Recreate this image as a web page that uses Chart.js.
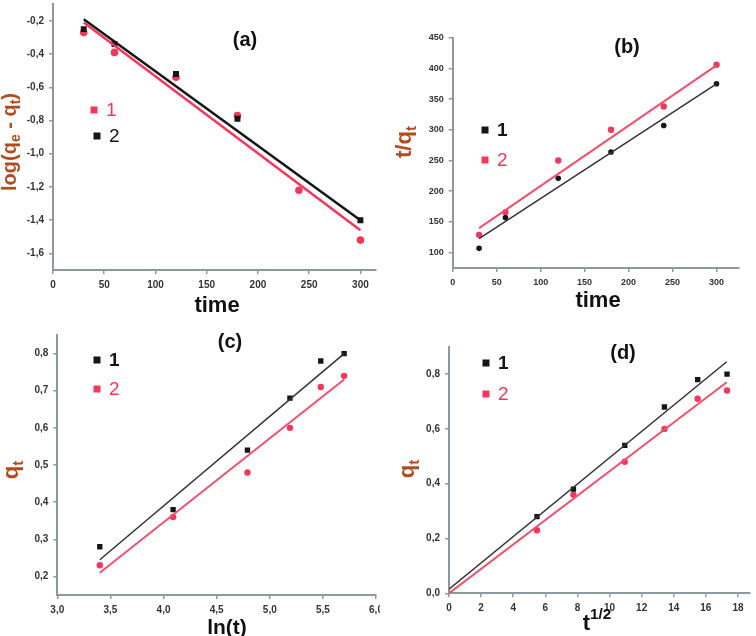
<!DOCTYPE html>
<html>
<head>
<title>Kinetic model plots</title>
<script src="https://cdn.jsdelivr.net/npm/chart.js@4.4.0/dist/chart.umd.min.js"></script>
<style>
  body { margin: 0; background: #fff; }
  #page { position: relative; width: 756px; height: 636px; overflow: hidden; }
  #page canvas { position: absolute; }
</style>
<script>
// contact time and its transforms (x values)
const time = [30, 60, 120, 180, 240, 300];
const lnTime = [3.40, 4.09, 4.79, 5.19, 5.48, 5.70];
const sqrtTime = [5.48, 7.75, 10.95, 13.42, 15.49, 17.32];

// (a) log(qe - qt) vs time
const logQ1 = [-0.27, -0.39, -0.54, -0.77, -1.22, -1.52];
const timeA2 = [30, 60, 120, 180, 300];
const logQ2 = [-0.25, -0.34, -0.52, -0.79, -1.40];
const fitA1 = [-0.21, -1.46];
const fitA2 = [-0.19, -1.40];

// (b) t/qt vs time
const tq1 = [107, 157, 221, 264, 307, 375];
const tq2 = [129, 166, 250, 300, 338, 406];
const fitB1 = [123, 375];
const fitB2 = [140, 405];

// (c), (d) qt
const qt1 = [0.28, 0.38, 0.54, 0.68, 0.78, 0.80];
const qt2 = [0.23, 0.36, 0.48, 0.60, 0.71, 0.74];
const fitC1 = [0.245, 0.80];
const fitC2 = [0.21, 0.73];
const fitD1 = [0.015, 0.845];
const fitD2 = [0.0, 0.77];

// fit line x ends
const fitTime = [30, 300];
const fitLn = [3.40, 5.70];
const fitSqrt = [0, 17.3];

// tick labels
const ticksTime = [0, 50, 100, 150, 200, 250, 300];
const ticksLogQ = [-1.6, -1.4, -1.2, -1.0, -0.8, -0.6, -0.4, -0.2];
const ticksTQ = [100, 150, 200, 250, 300, 350, 400, 450];
const ticksLn = [3.0, 3.5, 4.0, 4.5, 5.0, 5.5, 6.0];
const ticksQtC = [0.2, 0.3, 0.4, 0.5, 0.6, 0.7, 0.8];
const ticksSqrt = [0, 2, 4, 6, 8, 10, 12, 14, 16, 18];
const ticksQtD = [0.0, 0.2, 0.4, 0.6, 0.8];

const RED = '#f5365c';
const RED_LINE = '#f0506c';
const BLACK = '#151515';
const AXIS = '#8c9aa0';
const TITLE_Y = '#b24c1e';
const FONT = "'Liberation Sans', Arial, sans-serif";

function pts(xs, ys) {
    return xs.map((x, i) => ({ x: x, y: ys[i] }));
}

function fmt(dec) {
    return v => dec ? v.toFixed(dec).replace('.', ',') : String(v);
}

// draws text with sub/superscript parts, centred on (x, y)
function richText(ctx, runs, x, y, size, color, rot) {
    ctx.save();
    ctx.translate(x, y);
    if (rot) ctx.rotate(rot);
    ctx.fillStyle = color;
    ctx.textBaseline = 'middle';
    ctx.textAlign = 'left';
    let total = 0;
    runs.forEach(r => {
        const s = r.sub || r.sup ? size * 0.7 : size;
        ctx.font = 'bold ' + s + 'px ' + FONT;
        r.w = ctx.measureText(r.t).width;
        total += r.w;
    });
    let cx = -total / 2;
    runs.forEach(r => {
        const s = r.sub || r.sup ? size * 0.7 : size;
        ctx.font = 'bold ' + s + 'px ' + FONT;
        let dy = 0;
        if (r.sub) dy = size * 0.32;
        if (r.sup) dy = -size * 0.4;
        ctx.fillText(r.t, cx, dy);
        cx += r.w;
    });
    ctx.restore();
}

const decor = {
    id: 'decor',
    afterDraw(chart, args, o) {
        const ctx = chart.ctx;
        // panel label
        ctx.save();
        ctx.font = 'bold 20px ' + FONT;
        ctx.fillStyle = '#111';
        ctx.textAlign = 'center';
        ctx.textBaseline = 'middle';
        ctx.fillText(o.label[0], o.label[1], o.label[2]);
        // legend
        o.legend.forEach(it => {
            ctx.fillStyle = it.color;
            ctx.fillRect(it.x - 3.5, it.y - 3.5, 7, 7);
            ctx.font = (it.bold ? 'bold ' : '') + '19px ' + FONT;
            ctx.textAlign = 'left';
            ctx.fillText(it.text, it.x + 12, it.y + 1);
        });
        ctx.restore();
        richText(ctx, o.xTitle.runs, o.xTitle.x, o.xTitle.y, o.xTitle.size, '#111', 0);
        richText(ctx, o.yTitle.runs, o.yTitle.x, o.yTitle.y, o.yTitle.size, TITLE_Y, -Math.PI / 2);
    }
};

function axis(min, max, ticks, dec, size, fontSize) {
    return {
        type: 'linear',
        min: min,
        max: max,
        afterBuildTicks: s => { s.ticks = ticks.map(v => ({ value: v })); },
        afterFit: s => {
            if (s.isHorizontal()) s.height = size; else s.width = size;
            s.paddingLeft = s.paddingRight = s.paddingTop = s.paddingBottom = 0;
        },
        grid: { drawOnChartArea: false, drawTicks: true, tickLength: 4, color: AXIS, lineWidth: 1.5 },
        border: { color: AXIS, width: 2 },
        ticks: {
            autoSkip: false, maxRotation: 0, padding: 5,
            color: '#333', font: { family: FONT, size: fontSize, weight: 'bold' },
            callback: fmt(dec)
        }
    };
}

function makePanel(id, box, area, datasets, scales, decorOpts) {
    const cv = document.getElementById(id);
    cv.width = box.w; cv.height = box.h;
    cv.style.left = box.x + 'px'; cv.style.top = box.y + 'px';
    new Chart(cv.getContext('2d'), {
        type: 'scatter',
        data: { datasets: datasets },
        options: {
            responsive: false, animation: false, devicePixelRatio: 1,
            layout: { padding: { left: 0, top: area.top, right: box.w - area.right, bottom: box.h - area.bottom - scales.x.xh } },
            scales: scales,
            plugins: { legend: { display: false }, tooltip: { enabled: false }, decor: decorOpts }
        },
        plugins: [decor]
    });
}

function dots(data, color, style, r) {
    return { data: data, backgroundColor: color, borderColor: color, pointStyle: style, pointRadius: r, borderWidth: 0 };
}
function fit(data, color, w) {
    return { data: data, showLine: true, borderColor: color, borderWidth: w, pointRadius: 0, fill: false };
}
function xAxis(min, max, ticks, dec, h, fs) {
    const a = axis(min, max, ticks, dec, h, fs);
    a.xh = h;
    return a;
}

document.addEventListener('DOMContentLoaded', () => {
    // (a)
    makePanel('chartA', { x: 0, y: 0, w: 380, h: 326 }, { top: 4, right: 377, bottom: 270 }, [
        fit(pts(fitTime, fitA2), BLACK, 2.5),
        fit(pts(fitTime, fitA1), RED, 2.5),
        dots(pts(timeA2, logQ2), BLACK, 'rect', 4.2),
        dots(pts(time, logQ1), RED, 'circle', 3.8)
    ], {
        x: xAxis(0, 315, ticksTime, 0, 40, 10),
        y: axis(-1.7, -0.1, ticksLogQ, 1, 53, 10)
    }, {
        label: ['(a)', 245, 40],
        legend: [{ text: '1', color: RED, x: 94, y: 110 }, { text: '2', color: BLACK, x: 97, y: 136 }],
        xTitle: { runs: [{ t: 'time' }], x: 217, y: 306, size: 22 },
        yTitle: { runs: [{ t: 'log(q' }, { t: 'e', sub: 1 }, { t: ' - q' }, { t: 't', sub: 1 }, { t: ')' }], x: 10, y: 142, size: 20 }
    });

    // (b)
    makePanel('chartB', { x: 380, y: 0, w: 376, h: 326 }, { top: 37.7, right: 358.5, bottom: 268 }, [
        fit(pts(fitTime, fitB2), RED_LINE, 2),
        fit(pts(fitTime, fitB1), '#333', 1.5),
        dots(pts(time, tq2), RED, 'circle', 3.2),
        dots(pts(time, tq1), BLACK, 'circle', 2.8)
    ], {
        x: xAxis(0, 325, ticksTime, 0, 42, 9),
        y: axis(75, 450, ticksTQ, 0, 72.7, 9)
    }, {
        label: ['(b)', 247, 47],
        legend: [{ text: '1', color: BLACK, x: 105, y: 130, bold: 1 }, { text: '2', color: RED, x: 105, y: 160 }],
        xTitle: { runs: [{ t: 'time' }], x: 218, y: 301, size: 22 },
        yTitle: { runs: [{ t: 't/q' }, { t: 't', sub: 1 }], x: 25, y: 142, size: 22 }
    });

    // (c)
    makePanel('chartC', { x: 0, y: 310, w: 380, h: 326 }, { top: 25, right: 380, bottom: 285 }, [
        fit(pts(fitLn, fitC1), '#333', 1.5),
        fit(pts(fitLn, fitC2), RED_LINE, 2),
        dots(pts(lnTime, qt1), BLACK, 'rect', 3.8),
        dots(pts(lnTime, qt2), RED, 'circle', 3.2)
    ], {
        x: xAxis(3, 6, ticksLn, 1, 41, 10),
        y: axis(0.15, 0.85, ticksQtC, 1, 57.3, 10)
    }, {
        label: ['(c)', 230, 32],
        legend: [{ text: '1', color: BLACK, x: 97, y: 50, bold: 1 }, { text: '2', color: RED, x: 97, y: 79 }],
        xTitle: { runs: [{ t: 'ln(t)' }], x: 227, y: 318, size: 21 },
        yTitle: { runs: [{ t: 'q' }, { t: 't', sub: 1 }], x: 12, y: 160, size: 22 }
    });

    // (d)
    makePanel('chartD', { x: 380, y: 310, w: 376, h: 326 }, { top: 36.7, right: 370, bottom: 283.3 }, [
        fit(pts(fitSqrt, fitD1), '#333', 1.5),
        fit(pts(fitSqrt, fitD2), RED_LINE, 2),
        dots(pts(sqrtTime, qt1), BLACK, 'rect', 3.8),
        dots(pts(sqrtTime, qt2), RED, 'circle', 3.2)
    ], {
        x: xAxis(0, 18.75, ticksSqrt, 0, 42.7, 10),
        y: axis(0, 0.9, ticksQtD, 1, 69, 10)
    }, {
        label: ['(d)', 243, 43],
        legend: [{ text: '1', color: BLACK, x: 106, y: 53, bold: 1 }, { text: '2', color: RED, x: 106, y: 84 }],
        xTitle: { runs: [{ t: 't' }, { t: '1/2', sup: 1 }], x: 217, y: 314, size: 22 },
        yTitle: { runs: [{ t: 'q' }, { t: 't', sub: 1 }], x: 28, y: 159, size: 22 }
    });
});
</script>
</head>
<body>
<div id="page">
  <canvas id="chartA"></canvas>
  <canvas id="chartB"></canvas>
  <canvas id="chartC"></canvas>
  <canvas id="chartD"></canvas>
</div>
</body>
</html>
